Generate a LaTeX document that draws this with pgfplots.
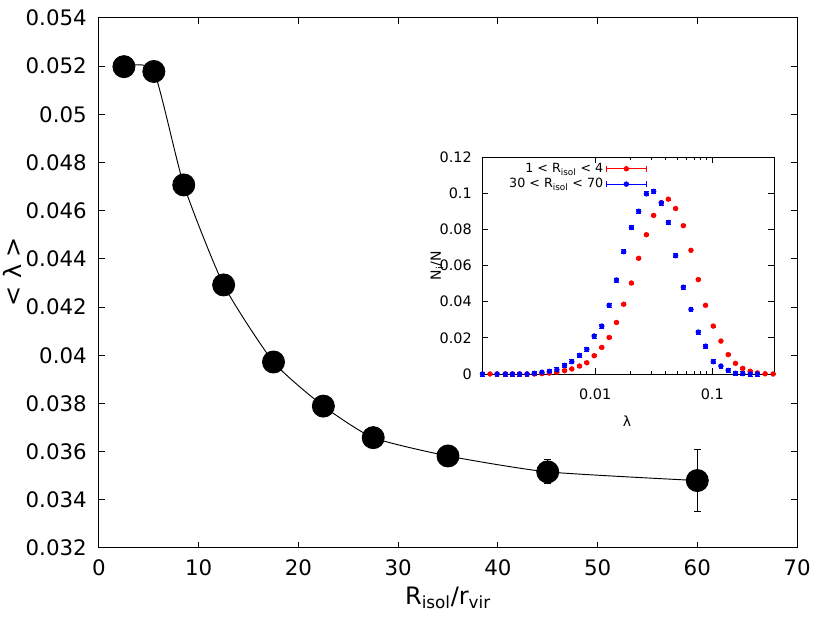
\documentclass[border=0pt]{standalone}
\usepackage{fontspec}
\setmainfont{DejaVu Sans}
\usepackage{pgfplots}
\pgfplotsset{compat=1.18}
\begin{document}
\begin{tikzpicture}
\useasboundingbox (-74.25pt,-56.25pt) rectangle (548.25pt,411pt);
% main panel
\begin{axis}[
    at={(0pt,0pt)}, anchor=south west,
    scale only axis, width=523.5pt, height=397.5pt,
    xmin=0, xmax=70, ymin=0.032, ymax=0.054,
    xtick={0,10,20,30,40,50,60,70},
    ytick={0.032,0.034,0.036,0.038,0.040,0.042,0.044,0.046,0.048,0.050,0.052,0.054},
    scaled y ticks=false,
    yticklabel style={/pgf/number format/fixed, /pgf/number format/precision=3,
        anchor=east, inner sep=0pt, xshift=-9pt},
    xticklabel style={anchor=base, inner sep=0pt, yshift=-20.25pt},
    /pgf/number format/assume math mode=true,
    tick label style={font=\fontsize{16}{19}\selectfont},
    tick align=inside, major tick length=4.5pt,
    every tick/.style={black, line width=0.75pt},
    axis line style={line width=0.75pt},
    xlabel={R\textsubscript{isol}/r\textsubscript{vir}},
    ylabel={< λ >},
    label style={font=\fontsize{18}{21}\selectfont},
    xlabel style={at={(axis description cs:0.5,-0.1057)}, anchor=base},
    ylabel style={at={(axis description cs:-0.1246,0.521)}, anchor=center},
    clip=false,
]
\addplot[black, line width=0.7pt, smooth, tension=0.35, mark=*, mark size=8.25pt,
    error bars/.cd, y dir=both, y explicit,
    error bar style={line width=0.75pt},
    error mark options={rotate=90, mark size=2.6pt, line width=0.75pt}]
    table[x=x, y=y, y error=e] {
x y e
2.5 0.05198 0
5.5 0.05178 0
8.5 0.04707 0
12.5 0.04292 0
17.5 0.03972 0
22.5 0.03789 0
27.5 0.03658 0
35 0.03582 0
45 0.03516 0.0005
60 0.03480 0.00128
};
\end{axis}
% inset
\begin{axis}[
    at={(287.25pt,130.5pt)}, anchor=south west,
    scale only axis, width=219pt, height=162.75pt,
    xmode=log, xmin=0.00108, xmax=0.337, ymin=0, ymax=0.12,
    xtick={0.01,0.1}, xticklabels={0.01,0.1},
    ytick={0,0.02,0.04,0.06,0.08,0.1,0.12},
    scaled y ticks=false,
    yticklabel style={/pgf/number format/fixed, /pgf/number format/precision=2,
        anchor=east, inner sep=0pt, xshift=-7.5pt},
    xticklabel style={anchor=base, inner sep=0pt, yshift=-19.5pt},
    /pgf/number format/assume math mode=true,
    tick label style={font=\fontsize{10.8}{13}\selectfont},
    tick align=inside, major tick length=4.5pt, minor tick length=2.5pt,
    every tick/.style={black, line width=0.6pt},
    axis line style={line width=0.6pt},
    xlabel={λ}, ylabel={N\textsubscript{i}/N},
    label style={font=\fontsize{10.5}{12.5}\selectfont},
    xlabel style={at={(axis description cs:0.497,-0.244)}, anchor=base},
    ylabel style={at={(axis description cs:-0.154,0.5)}, anchor=center},
    clip=false,
    legend plot pos=right, legend cell align=right,
    legend style={at={(axis description cs:0.565,0.985)}, anchor=north east,
        draw=none, fill=none, font=\fontsize{9.5}{11}\selectfont,
        row sep=-1pt, inner sep=0pt},
]
\addlegendimage{legend image code/.code={
    \draw[red, line width=0.6pt] (0pt,0pt) -- (30pt,0pt);
    \draw[red, line width=0.6pt] (0pt,-2.2pt) -- (0pt,2.2pt) (30pt,-2.2pt) -- (30pt,2.2pt);
    \fill[red] (15pt,0pt) circle (1.8pt);}}
\addlegendentry{1 < R\textsubscript{isol} < 4}
\addlegendimage{legend image code/.code={
    \draw[blue, line width=0.6pt] (0pt,0pt) -- (30pt,0pt);
    \draw[blue, line width=0.6pt] (0pt,-2.2pt) -- (0pt,2.2pt) (30pt,-2.2pt) -- (30pt,2.2pt);
    \fill[blue] (15pt,0pt) circle (1.8pt);}}
\addlegendentry{30 < R\textsubscript{isol} < 70}
\addplot[red, only marks, mark=*, mark size=1.8pt, forget plot,
    error bars/.cd, y dir=both, y fixed=0.0005,
    error bar style={line width=0.6pt},
    error mark options={rotate=90, mark size=1.8pt, line width=0.6pt}]
    table {
0.001265 0
0.001452 0
0.00171 0
0.001963 0
0.002265 0
0.00262 0
0.00302 0
0.00351 0.0002
0.00406 0.0005
0.00471 0.0010
0.00548 0.0018
0.00632 0.0028
0.00735 0.0044
0.00849 0.0062
0.00980 0.0101
0.0114 0.0147
0.01316 0.0202
0.0152 0.0285
0.01754 0.0386
0.0204 0.0503
0.02355 0.0640
0.02738 0.0770
0.03162 0.0877
0.03673 0.0948
0.04217 0.0967
0.04870 0.0915
0.05662 0.0820
0.06579 0.0684
0.07599 0.0522
0.08770 0.0380
0.1020 0.0265
0.1186 0.0182
0.1368 0.0107
0.1581 0.0059
0.1824 0.0031
0.2109 0.0015
0.2432 0.0006
0.2831 0.0001
0.3311 0
};
\addplot[blue, only marks, mark=*, mark size=1.8pt, forget plot,
    error bars/.cd, y dir=both, y fixed=0.0011,
    error bar style={line width=0.6pt},
    error mark options={rotate=90, mark size=1.8pt, line width=0.6pt}]
    table {
0.001089 0
0.001452 0
0.00171 0
0.001963 0
0.002265 0
0.00262 0
0.00302 0.0004
0.00351 0.0010
0.00406 0.0015
0.00471 0.0024
0.00548 0.0048
0.00632 0.0068
0.00735 0.0103
0.00849 0.0136
0.00980 0.0210
0.0114 0.0265
0.01316 0.0380
0.0152 0.0520
0.01754 0.0676
0.0204 0.0810
0.02355 0.0900
0.02738 0.0996
0.03162 0.1010
0.03673 0.0946
0.04217 0.0838
0.04870 0.0654
0.05662 0.0480
0.06579 0.0357
0.07599 0.0232
0.08770 0.0154
0.1020 0.0068
0.1186 0.0044
0.1368 0.0020
0.1581 0.0004
0.1824 0.0002
0.2109 0
0.2432 0
};
\end{axis}
\end{tikzpicture}
\end{document}
